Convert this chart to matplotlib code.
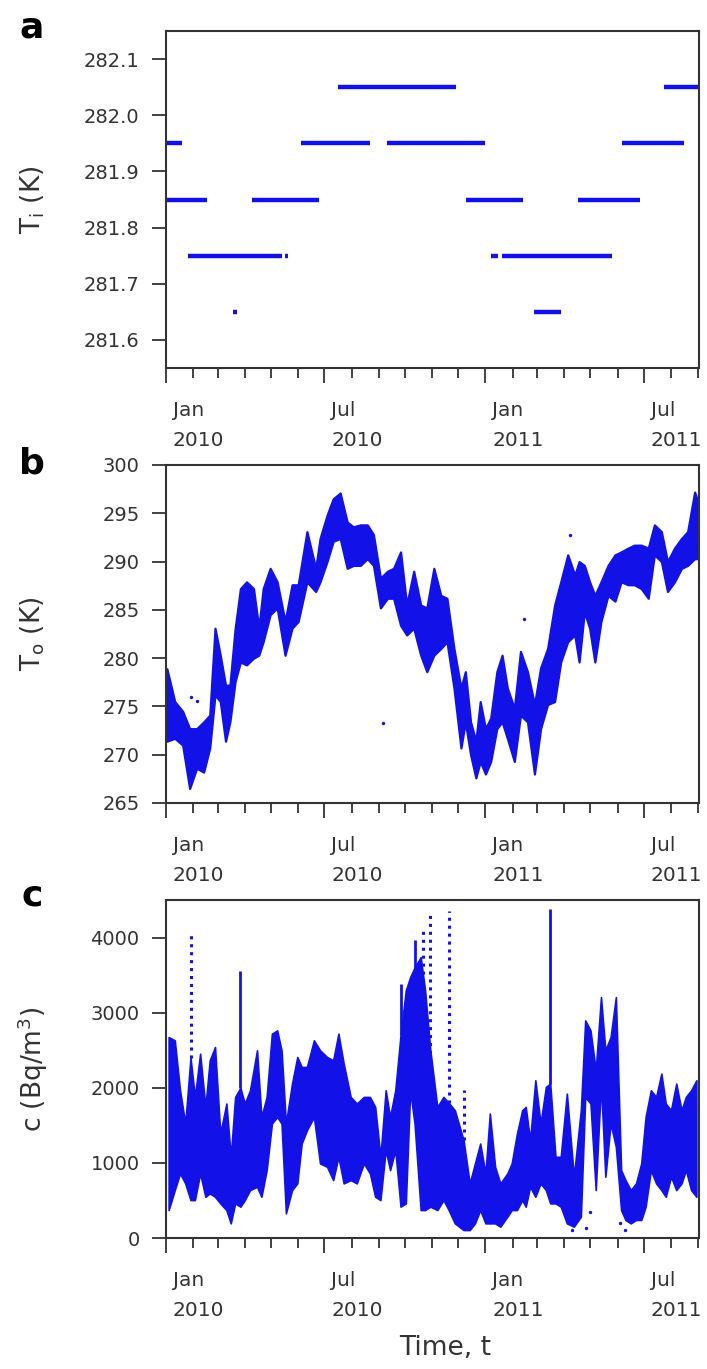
import numpy as np
import pandas as pd
import matplotlib
matplotlib.use("Agg")
import matplotlib.pyplot as plt
import matplotlib.dates as mdates
from matplotlib.transforms import ScaledTranslation

# ---- panel a: indoor temperature, discrete sensor levels (start, end, level)
a_starts = ["2010-01-01", "2010-01-01", "2010-01-26", "2010-05-17", "2010-03-19",
            "2010-04-09", "2010-06-04", "2010-07-17", "2010-09-11", "2010-12-10",
            "2011-01-07", "2011-01-20", "2011-02-25", "2011-04-17", "2011-06-06",
            "2011-07-24"]
a_ends = ["2010-01-19", "2010-02-17", "2010-05-13", "2010-05-20", "2010-03-23",
          "2010-06-25", "2010-08-22", "2010-11-28", "2010-12-31", "2011-02-13",
          "2011-01-15", "2011-05-26", "2011-03-28", "2011-06-27", "2011-08-16",
          "2011-09-02"]
a_levels = [281.95, 281.85, 281.75, 281.75, 281.65,
            281.85, 281.95, 282.05, 281.95, 281.85,
            281.75, 281.75, 281.65, 281.85, 281.95,
            282.05]

# ---- panel b: outdoor temperature, weekly low / high envelope
b_dates = ["2010-01-02", "2010-01-11", "2010-01-20", "2010-01-28", "2010-02-05",
           "2010-02-13", "2010-02-20", "2010-02-26", "2010-03-04", "2010-03-10",
           "2010-03-15", "2010-03-21", "2010-03-27", "2010-04-03", "2010-04-11",
           "2010-04-17", "2010-04-22", "2010-04-30", "2010-05-08", "2010-05-17",
           "2010-05-25", "2010-06-01", "2010-06-11", "2010-06-21", "2010-06-26",
           "2010-07-04", "2010-07-11", "2010-07-19", "2010-07-27", "2010-08-03",
           "2010-08-11", "2010-08-19", "2010-08-26", "2010-09-03", "2010-09-11",
           "2010-09-18", "2010-09-26", "2010-10-03", "2010-10-11", "2010-10-19",
           "2010-10-26", "2010-11-03", "2010-11-11", "2010-11-18", "2010-11-26",
           "2010-12-04", "2010-12-09", "2010-12-15", "2010-12-21", "2010-12-26",
           "2011-01-01", "2011-01-07", "2011-01-14", "2011-01-20", "2011-01-26",
           "2011-02-03", "2011-02-10", "2011-02-18", "2011-02-26", "2011-03-05",
           "2011-03-13", "2011-03-21", "2011-03-28", "2011-04-05", "2011-04-13",
           "2011-04-18", "2011-04-24", "2011-04-30", "2011-05-06", "2011-05-13",
           "2011-05-21", "2011-05-29", "2011-06-05", "2011-06-13", "2011-06-20",
           "2011-06-28", "2011-07-06", "2011-07-13", "2011-07-21", "2011-07-28",
           "2011-08-05", "2011-08-13", "2011-08-20", "2011-08-28", "2011-09-02"]
b_high = [278.9, 275.5, 274.5, 272.7, 272.7, 273.4, 274.1, 283.1, 280.3, 277.2,
          277.2, 283.1, 287.2, 287.9, 287.2, 283.1, 287.2, 289.3, 287.9, 283.8,
          287.6, 287.6, 293.1, 289.3, 292.4, 294.8, 296.5, 297.1, 294.1, 293.6,
          293.8, 293.8, 292.8, 288.3, 289.0, 289.3, 291.0, 285.5, 289.0, 285.5,
          285.2, 289.3, 286.5, 286.2, 281.0, 276.9, 278.6, 273.4, 271.4, 275.5,
          272.7, 273.8, 278.6, 280.3, 276.9, 274.8, 280.7, 278.6, 275.2, 279.0,
          281.0, 285.5, 287.9, 290.7, 288.6, 290.0, 289.6, 287.9, 286.5, 287.9,
          289.6, 290.7, 291.0, 291.4, 291.7, 291.7, 291.4, 293.8, 293.1, 290.0,
          291.4, 292.4, 293.1, 297.2, 295.9]
b_low = [271.4, 271.7, 271.0, 266.5, 268.6, 268.2, 270.7, 276.2, 275.5, 271.4,
         273.4, 277.6, 279.6, 279.3, 280.0, 280.3, 281.7, 284.5, 285.2, 280.3,
         283.1, 283.8, 287.9, 286.9, 287.9, 290.0, 292.1, 292.4, 289.3, 289.6,
         289.6, 290.3, 289.6, 285.2, 286.2, 286.2, 283.4, 282.4, 283.1, 280.3,
         278.6, 280.3, 281.0, 281.7, 276.9, 270.7, 273.4, 270.0, 267.6, 269.3,
         268.0, 269.3, 272.7, 273.4, 271.7, 269.3, 274.1, 273.4, 268.0, 272.7,
         275.2, 275.5, 279.6, 281.7, 282.4, 279.6, 284.8, 283.1, 279.6, 283.8,
         286.5, 285.9, 287.9, 287.6, 287.6, 287.2, 286.2, 290.7, 290.0, 286.9,
         287.9, 289.3, 289.6, 290.3, 290.3]
b_out_dates = ["2010-09-06", "2011-04-08", "2011-02-14", "2010-01-30", "2010-02-05"]
b_out_vals = [273.3, 292.8, 284.1, 276.0, 275.6]

# ---- panel c: radon concentration, low / high envelope plus spikes
c_dates = ["2010-01-04", "2010-01-11", "2010-01-17", "2010-01-23", "2010-01-29",
           "2010-02-03", "2010-02-09", "2010-02-15", "2010-02-20", "2010-02-26",
           "2010-03-04", "2010-03-11", "2010-03-16", "2010-03-21", "2010-03-27",
           "2010-04-01", "2010-04-07", "2010-04-15", "2010-04-20", "2010-04-26",
           "2010-05-02", "2010-05-08", "2010-05-13", "2010-05-18", "2010-05-25",
           "2010-05-31", "2010-06-05", "2010-06-11", "2010-06-19", "2010-06-26",
           "2010-07-04", "2010-07-11", "2010-07-17", "2010-07-23", "2010-07-31",
           "2010-08-07", "2010-08-15", "2010-08-22", "2010-08-28", "2010-09-03",
           "2010-09-09", "2010-09-14", "2010-09-20", "2010-09-26", "2010-10-02",
           "2010-10-07", "2010-10-12", "2010-10-19", "2010-10-24", "2010-10-30",
           "2010-11-07", "2010-11-14", "2010-11-20", "2010-11-27", "2010-12-07",
           "2010-12-14", "2010-12-20", "2010-12-26", "2011-01-01", "2011-01-06",
           "2011-01-12", "2011-01-18", "2011-01-26", "2011-01-31", "2011-02-06",
           "2011-02-12", "2011-02-16", "2011-02-21", "2011-02-27", "2011-03-05",
           "2011-03-11", "2011-03-16", "2011-03-22", "2011-03-28", "2011-04-04",
           "2011-04-12", "2011-04-20", "2011-04-25", "2011-05-01", "2011-05-07",
           "2011-05-13", "2011-05-18", "2011-05-24", "2011-05-30", "2011-06-05",
           "2011-06-10", "2011-06-16", "2011-06-22", "2011-06-28", "2011-07-03",
           "2011-07-09", "2011-07-15", "2011-07-21", "2011-07-26", "2011-08-01",
           "2011-08-07", "2011-08-13", "2011-08-18", "2011-08-24", "2011-08-30"]
c_high = [2676, 2632, 1967, 1524, 2400, 1878, 2454, 1745, 2366, 2543,
          1391, 1790, 1081, 1878, 2000, 1790, 1967, 2499, 1612, 1878,
          2720, 2764, 2499, 1524, 2056, 2410, 2277, 2277, 2632, 2499,
          2410, 2366, 2720, 2322, 1878, 1790, 1878, 1878, 1745, 1081,
          1967, 1612, 1967, 2700, 3296, 3473, 3600, 3739, 3296, 2500,
          1745, 1878, 1800, 1701, 1300, 727, 993, 1258, 860, 1657,
          948, 727, 860, 993, 1391, 1701, 1745, 1302, 2100, 1524,
          2011, 2056, 1081, 1081, 1923, 816, 1701, 2897, 2764, 2233,
          3207, 2499, 2676, 3207, 904, 771, 638, 727, 993, 1612,
          1967, 1878, 2189, 1790, 1701, 2056, 1701, 1878, 1967, 2100]
c_low = [372, 638, 860, 727, 505, 505, 860, 549, 594, 549,
         461, 372, 195, 461, 417, 505, 638, 682, 549, 904,
         1524, 1612, 1524, 328, 638, 727, 1258, 1435, 1612, 993,
         948, 771, 1081, 727, 771, 727, 993, 860, 549, 505,
         1170, 904, 1170, 417, 461, 1967, 1524, 372, 372, 417,
         372, 505, 372, 195, 106, 106, 195, 372, 195, 195,
         195, 151, 284, 372, 372, 505, 417, 682, 549, 727,
         638, 461, 461, 417, 195, 151, 284, 1878, 1790, 638,
         2056, 816, 1524, 1214, 372, 240, 195, 240, 240, 417,
         904, 727, 638, 549, 816, 638, 727, 904, 638, 549]
# thin dense spikes
c_spike_dates = ["2010-03-27", "2010-09-26", "2010-10-12", "2011-03-16"]
c_spike_low = [2000, 2700, 3600, 2056]
c_spike_high = [3560, 3385, 3961, 4381]
# sparse (dotted-looking) spikes
c_dot_dates = ["2010-01-29", "2010-10-22", "2010-10-30", "2010-11-20", "2010-12-07"]
c_dot_low = [2400, 3296, 1500, 1800, 1300]
c_dot_high = [4090, 4090, 4359, 4359, 1967]
c_out_dates = ["2011-04-10", "2011-04-26", "2011-05-01", "2011-06-04", "2011-06-10"]
c_out_vals = [106, 128, 350, 195, 106]

BLUE = "#1212e8"
DARK = "#333333"

plt.rcParams["font.family"] = "DejaVu Sans"
plt.rcParams["text.color"] = DARK
plt.rcParams["axes.edgecolor"] = DARK
plt.rcParams["xtick.color"] = DARK
plt.rcParams["ytick.color"] = DARK

fig = plt.figure(figsize=(7.07, 13.69), dpi=100)
W, H = 707.0, 1369.0


def px_axes(left, top, right, bottom):
    return fig.add_axes([left / W, 1 - bottom / H, (right - left) / W, (bottom - top) / H])


ax_a = px_axes(166, 31, 699, 368)
ax_b = px_axes(166, 465, 699, 803)
ax_c = px_axes(166, 900, 699, 1238)

to_dt = pd.to_datetime

# panel a
ax_a.hlines(a_levels, to_dt(a_starts), to_dt(a_ends), color=BLUE, lw=3.2)
ax_a.set_ylim(281.55, 282.15)
ax_a.set_yticks(np.arange(281.6, 282.15, 0.1))
ax_a.yaxis.set_major_formatter(matplotlib.ticker.FormatStrFormatter("%.1f"))

# panel b
bd = to_dt(b_dates)
ax_b.fill_between(bd, b_low, b_high, color=BLUE, lw=1.6, edgecolor=BLUE)
ax_b.scatter(to_dt(b_out_dates), b_out_vals, s=6, color=BLUE, lw=0)
ax_b.set_ylim(265, 300)
ax_b.set_yticks(np.arange(265, 301, 5))

# panel c
cd = to_dt(c_dates)
ax_c.fill_between(cd, c_low, c_high, color=BLUE, lw=1.2, edgecolor=BLUE)
ax_c.vlines(to_dt(c_spike_dates), c_spike_low, c_spike_high, color=BLUE, lw=2)
ax_c.vlines(to_dt(c_dot_dates), c_dot_low, c_dot_high, color=BLUE, lw=2.2,
            linestyles=(0, (1, 1.6)))
ax_c.scatter(to_dt(c_out_dates), c_out_vals, s=6, color=BLUE, lw=0)
ax_c.set_ylim(0, 4500)
ax_c.set_yticks(np.arange(0, 4001, 1000))

offset = ScaledTranslation(5 / 72, 0, fig.dpi_scale_trans)
for ax in (ax_a, ax_b, ax_c):
    ax.set_xlim(pd.Timestamp("2010-01-01"), pd.Timestamp("2011-09-02"))
    ax.xaxis.set_major_locator(mdates.MonthLocator(bymonth=[1, 7]))
    ax.xaxis.set_minor_locator(mdates.MonthLocator())
    ax.xaxis.set_major_formatter(mdates.DateFormatter("%b\n%Y"))
    ax.tick_params(axis="x", which="major", direction="out", length=11, width=1.3,
                   pad=13, labelsize=14.5)
    ax.tick_params(axis="x", which="minor", direction="out", length=7, width=1.3)
    ax.tick_params(axis="y", direction="out", length=10, width=1.3, pad=9, labelsize=14)
    for sp in ax.spines.values():
        sp.set_linewidth(1.5)
    for lab in ax.xaxis.get_majorticklabels():
        lab.set_horizontalalignment("left")
        lab.set_linespacing(1.7)
        lab.set_transform(lab.get_transform() + offset)

# axis titles and panel letters
ylab_x = 33 / W
fig.text(ylab_x, 1 - 200 / H, r"T$_\mathrm{i}$ (K)", rotation=90, ha="center",
         va="center", fontsize=19)
fig.text(ylab_x, 1 - 634 / H, r"T$_\mathrm{o}$ (K)", rotation=90, ha="center",
         va="center", fontsize=19)
fig.text(ylab_x, 1 - 1069 / H, r"c (Bq/m$^3$)", rotation=90, ha="center",
         va="center", fontsize=19)
fig.text(445 / W, 1 - 1348 / H, "Time, t", ha="center", va="center", fontsize=19)

for letter, y in (("a", 28), ("b", 463), ("c", 895)):
    fig.text(32 / W, 1 - y / H, letter, ha="center", va="center", fontsize=26,
             fontweight="bold", color="black")

fig.savefig("out.png", dpi=100)
